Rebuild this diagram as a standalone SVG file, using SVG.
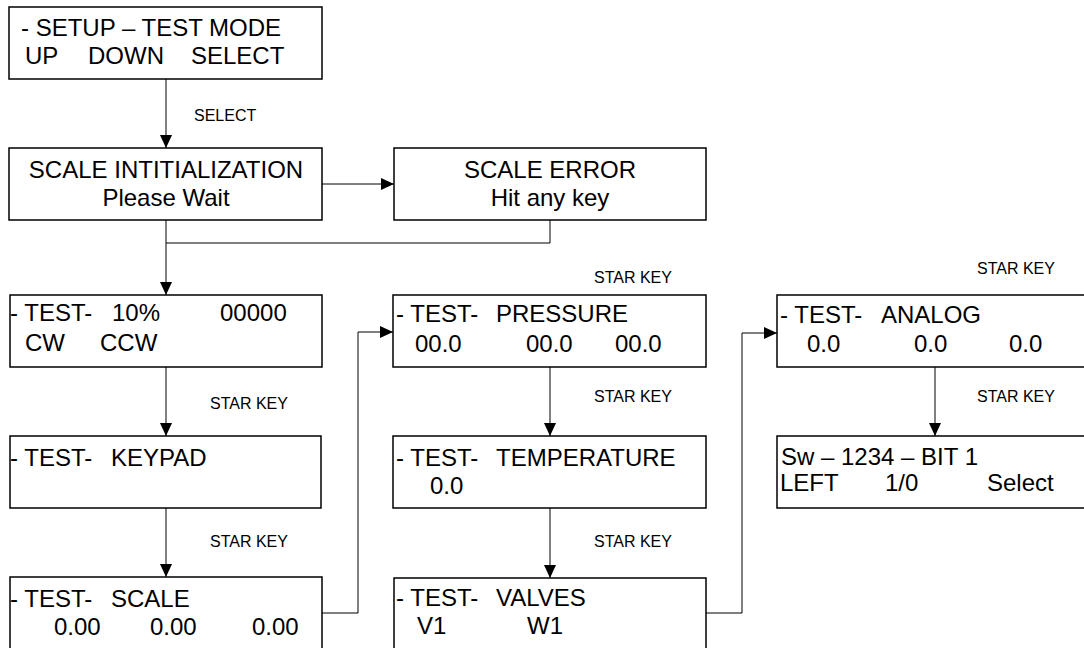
<svg xmlns="http://www.w3.org/2000/svg" width="1084" height="648" viewBox="0 0 1084 648">
<style>
.box{fill:#fff;stroke:#000;stroke-width:1.5}
.t{font-family:"Liberation Sans",Arial,sans-serif;font-size:24px;fill:#000}
.c{text-anchor:middle}
.lbl{font-family:"Liberation Sans",Arial,sans-serif;font-size:16px;fill:#000}
.ln{fill:none;stroke:#000;stroke-width:1}
</style>
<defs>
<marker id="ah" markerUnits="userSpaceOnUse" markerWidth="14" markerHeight="12" refX="13" refY="6" orient="auto">
<path d="M0,0 L13,6 L0,12 Z" fill="#000"/>
</marker>
</defs>
<rect width="1084" height="648" fill="#fff"/>
<g id="connectors">
<path class="ln" d="M166,79 V148" marker-end="url(#ah)"/>
<path class="ln" d="M322,184 H394" marker-end="url(#ah)"/>
<path class="ln" d="M550,220 V243 H166"/>
<path class="ln" d="M166,220 V295" marker-end="url(#ah)"/>
<path class="ln" d="M166,367 V436" marker-end="url(#ah)"/>
<path class="ln" d="M166,508 V577" marker-end="url(#ah)"/>
<path class="ln" d="M322,613 H358 V332 H393" marker-end="url(#ah)"/>
<path class="ln" d="M550,367 V436" marker-end="url(#ah)"/>
<path class="ln" d="M550,508 V578" marker-end="url(#ah)"/>
<path class="ln" d="M706,613 H742 V333 H777" marker-end="url(#ah)"/>
<path class="ln" d="M935,367 V436" marker-end="url(#ah)"/>
<text class="lbl" x="194" y="121">SELECT</text>
<text class="lbl" x="210" y="409">STAR KEY</text>
<text class="lbl" x="210" y="547">STAR KEY</text>
<text class="lbl" x="594" y="283">STAR KEY</text>
<text class="lbl" x="594" y="402">STAR KEY</text>
<text class="lbl" x="594" y="547">STAR KEY</text>
<text class="lbl" x="977" y="274">STAR KEY</text>
<text class="lbl" x="977" y="402">STAR KEY</text>
</g>
<g id="setup">
<rect class="box" x="9" y="7" width="313" height="72"/>
<text class="t" x="21" y="36">- SETUP – TEST MODE</text>
<text class="t" y="64"><tspan x="25">UP</tspan><tspan x="88">DOWN</tspan><tspan x="191">SELECT</tspan></text>
</g>
<g id="scale-init">
<rect class="box" x="9" y="148" width="313" height="72"/>
<text class="t c" x="166" y="178">SCALE INTITIALIZATION</text>
<text class="t c" x="166" y="206">Please Wait</text>
</g>
<g id="scale-error">
<rect class="box" x="394" y="148" width="312" height="72"/>
<text class="t c" x="550" y="178">SCALE ERROR</text>
<text class="t c" x="550" y="206">Hit any key</text>
</g>
<g id="test-motor">
<rect class="box" x="10" y="295" width="312" height="72"/>
<text class="t" y="321"><tspan x="10">- TEST-</tspan><tspan x="112">10%</tspan><tspan x="220">00000</tspan></text>
<text class="t" y="351"><tspan x="25">CW</tspan><tspan x="100">CCW</tspan></text>
</g>
<g id="test-keypad">
<rect class="box" x="10" y="436" width="311" height="72"/>
<text class="t" y="466"><tspan x="10">- TEST-</tspan><tspan x="111">KEYPAD</tspan></text>
</g>
<g id="test-scale">
<rect class="box" x="10" y="577" width="312" height="75"/>
<text class="t" y="607"><tspan x="10">- TEST-</tspan><tspan x="111">SCALE</tspan></text>
<text class="t" y="635"><tspan x="54">0.00</tspan><tspan x="150">0.00</tspan><tspan x="252">0.00</tspan></text>
</g>
<g id="test-pressure">
<rect class="box" x="393" y="295" width="313" height="72"/>
<text class="t" y="322"><tspan x="396">- TEST-</tspan><tspan x="496">PRESSURE</tspan></text>
<text class="t" y="352"><tspan x="415">00.0</tspan><tspan x="526">00.0</tspan><tspan x="615">00.0</tspan></text>
</g>
<g id="test-temperature">
<rect class="box" x="393" y="436" width="313" height="72"/>
<text class="t" y="466"><tspan x="396">- TEST-</tspan><tspan x="496">TEMPERATURE</tspan></text>
<text class="t" x="430" y="494">0.0</text>
</g>
<g id="test-valves">
<rect class="box" x="394" y="578" width="312" height="75"/>
<text class="t" y="606"><tspan x="396">- TEST-</tspan><tspan x="496">VALVES</tspan></text>
<text class="t" y="634"><tspan x="417">V1</tspan><tspan x="527">W1</tspan></text>
</g>
<g id="test-analog">
<rect class="box" x="777" y="295" width="320" height="72"/>
<text class="t" y="323"><tspan x="780">- TEST-</tspan><tspan x="881">ANALOG</tspan></text>
<text class="t" y="352"><tspan x="807">0.0</tspan><tspan x="914">0.0</tspan><tspan x="1009">0.0</tspan></text>
</g>
<g id="switch">
<rect class="box" x="777" y="436" width="320" height="72"/>
<text class="t" x="781" y="465">Sw – 1234 – BIT 1</text>
<text class="t" y="491"><tspan x="780">LEFT</tspan><tspan x="885">1/0</tspan><tspan x="987">Select</tspan></text>
</g>
</svg>
